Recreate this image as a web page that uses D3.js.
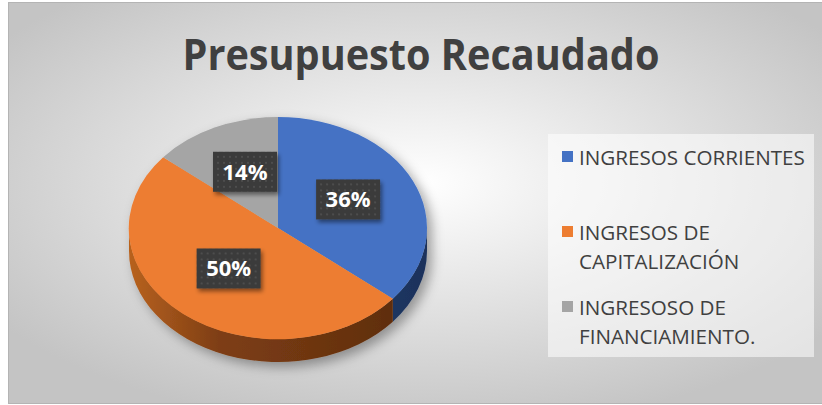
<!DOCTYPE html>
<html>
<head>
<meta charset="utf-8">
<script src="https://cdn.jsdelivr.net/npm/d3@7"></script>
<style>
  html, body { margin: 0; padding: 0; background: #ffffff; }
  svg { display: block; }
</style>
</head>
<body>
<div class="chart"></div>
<script>
/* chart data */
const categories = ["INGRESOS CORRIENTES", "INGRESOS DE CAPITALIZACIÓN", "INGRESOSO DE FINANCIAMIENTO."];
const values = [36, 50, 14];
const sliceColors = ["#4472c4", "#ed7d31", "#a5a5a5"];
const chartTitle = "Presupuesto Recaudado";

/* page size */
const width = 822;
const height = 405;

const svg = d3.select(".chart")
  .append("svg")
  .attr("width", width)
  .attr("height", height);

const defs = svg.append("defs");

/* background radial gradient like the office chart area */
const bg = defs.append("radialGradient")
  .attr("id", "bgGrad")
  .attr("cx", "50%").attr("cy", "45%").attr("r", "62%");
bg.append("stop").attr("offset", "0%").attr("stop-color", "#ffffff");
bg.append("stop").attr("offset", "100%").attr("stop-color", "#c4c4c4");

/* side gradients for the 3d look */
const pieCx = 278, pieCy = 228, rx = 149, ry = 111, depth = 23;

const sideOrange = defs.append("linearGradient")
  .attr("id", "side1")
  .attr("gradientUnits", "userSpaceOnUse")
  .attr("x1", pieCx - rx).attr("x2", pieCx + rx).attr("y1", 0).attr("y2", 0);
sideOrange.append("stop").attr("offset", "0%").attr("stop-color", "#b8621f");
sideOrange.append("stop").attr("offset", "30%").attr("stop-color", "#7e3e14");
sideOrange.append("stop").attr("offset", "100%").attr("stop-color", "#5a2b0d");

const sideBlue = defs.append("linearGradient")
  .attr("id", "side0")
  .attr("gradientUnits", "userSpaceOnUse")
  .attr("x1", pieCx - rx).attr("x2", pieCx + rx).attr("y1", 0).attr("y2", 0);
sideBlue.append("stop").attr("offset", "0%").attr("stop-color", "#2a4a85");
sideBlue.append("stop").attr("offset", "100%").attr("stop-color", "#1b325b");

const sideGray = defs.append("linearGradient").attr("id", "side2");
sideGray.append("stop").attr("offset", "0%").attr("stop-color", "#6e6e6e");

/* soft shadow under the pie */
const pieShadow = defs.append("filter").attr("id", "pieShadow")
  .attr("x", "-20%").attr("y", "-20%").attr("width", "150%").attr("height", "150%");
pieShadow.append("feDropShadow")
  .attr("dx", 5).attr("dy", 5).attr("stdDeviation", 6)
  .attr("flood-color", "#000").attr("flood-opacity", 0.35);

/* shadow for the data label boxes */
const boxShadow = defs.append("filter").attr("id", "boxShadow")
  .attr("x", "-30%").attr("y", "-30%").attr("width", "170%").attr("height", "170%");
boxShadow.append("feDropShadow")
  .attr("dx", 2).attr("dy", 3).attr("stdDeviation", 2)
  .attr("flood-color", "#000").attr("flood-opacity", 0.45);

/* dotted fill of the label boxes */
const dots = defs.append("pattern").attr("id", "dots")
  .attr("patternUnits", "userSpaceOnUse")
  .attr("width", 6).attr("height", 6);
dots.append("rect").attr("width", 6).attr("height", 6).attr("fill", "#3a3a3a");
dots.append("circle").attr("cx", 3).attr("cy", 3).attr("r", 0.9).attr("fill", "#565656");

/* chart area */
svg.append("rect")
  .attr("x", 8.5).attr("y", 2.5)
  .attr("width", width).attr("height", 401)
  .attr("fill", "url(#bgGrad)")
  .attr("stroke", "#b4b4b4");

/* title */
svg.append("text")
  .attr("x", 421)
  .attr("y", 70)
  .attr("text-anchor", "middle")
  .attr("font-family", "'Open Sans', sans-serif")
  .attr("font-weight", 700)
  .attr("font-size", 43)
  .attr("fill", "#404040")
  .attr("textLength", 477)
  .attr("lengthAdjust", "spacingAndGlyphs")
  .text(chartTitle);

/* pie layout */
const total = d3.sum(values);
const pie = d3.pie().sort(null).value(d => d)(values);

const arc = d3.arc().innerRadius(0).outerRadius(rx);

/* point on the tilted pie rim */
const rim = (a, dz) => [pieCx + rx * Math.sin(a), pieCy - ry * Math.cos(a) + dz];

const pieGroup = svg.append("g").attr("filter", "url(#pieShadow)");

/* sides of the slices facing the viewer */
pie.forEach((p, i) => {
  const s = Math.max(p.startAngle, Math.PI / 2);
  const e = Math.min(p.endAngle, 3 * Math.PI / 2);
  if (s >= e) return;
  const large = (e - s) > Math.PI ? 1 : 0;
  const p0 = rim(s, 0), p1 = rim(e, 0), p2 = rim(e, depth), p3 = rim(s, depth);
  const path = `M${p0}A${rx},${ry} 0 ${large} 1 ${p1}L${p2}A${rx},${ry} 0 ${large} 0 ${p3}Z`;
  pieGroup.append("path")
    .attr("d", path)
    .attr("fill", `url(#side${i})`);
});

/* top face */
pieGroup.append("g")
  .attr("transform", `translate(${pieCx},${pieCy}) scale(1,${ry / rx})`)
  .selectAll("path")
  .data(pie)
  .enter()
  .append("path")
  .attr("d", arc)
  .attr("fill", (d, i) => sliceColors[i]);

/* data labels */
const fmt = d3.format(".0%");
const labelR = rx * 0.52;
const boxW = 64, boxH = 40;

const labels = svg.append("g")
  .selectAll("g")
  .data(pie)
  .enter()
  .append("g")
  .attr("transform", d => {
    const a = (d.startAngle + d.endAngle) / 2;
    const x = pieCx + labelR * Math.sin(a);
    const y = pieCy - labelR * Math.cos(a) * (ry / rx) - 4;
    return `translate(${x},${y})`;
  });

labels.append("rect")
  .attr("x", -boxW / 2).attr("y", -boxH / 2)
  .attr("width", boxW).attr("height", boxH)
  .attr("fill", "url(#dots)")
  .attr("filter", "url(#boxShadow)");

labels.append("text")
  .attr("text-anchor", "middle")
  .attr("dy", "0.36em")
  .attr("font-family", "'Open Sans', sans-serif")
  .attr("font-weight", 700)
  .attr("font-size", 22)
  .attr("fill", "#ffffff")
  .text(d => fmt(d.value / total));

/* legend */
const legend = svg.append("g").attr("class", "legend");

legend.append("rect")
  .attr("x", 548).attr("y", 134)
  .attr("width", 266).attr("height", 223)
  .attr("fill", "#ffffff")
  .attr("fill-opacity", 0.55);

const legendFont = "'Open Sans', sans-serif";
let legendSize = 18;

/* fit the legend font so the longest single line matches the picture */
const probe = legend.append("text")
  .attr("font-family", legendFont)
  .attr("font-size", legendSize)
  .text(categories[0]);
legendSize = legendSize * 226 / probe.node().getComputedTextLength();
probe.remove();

const wrapWidth = 234;
const itemStep = 75;
const lineStep = 29;

categories.forEach((name, i) => {
  const baseY = 165 + i * itemStep;
  legend.append("rect")
    .attr("x", 562).attr("y", baseY - 14)
    .attr("width", 11).attr("height", 11)
    .attr("fill", sliceColors[i]);

  const t = legend.append("text")
    .attr("font-family", legendFont)
    .attr("font-size", legendSize)
    .attr("fill", "#404040");

  /* simple word wrap */
  const words = name.split(" ");
  let line = [];
  let lineNo = 0;
  let tspan = t.append("tspan").attr("x", 579).attr("y", baseY);
  words.forEach(w => {
    line.push(w);
    tspan.text(line.join(" "));
    if (tspan.node().getComputedTextLength() > wrapWidth && line.length > 1) {
      line.pop();
      tspan.text(line.join(" "));
      line = [w];
      lineNo++;
      tspan = t.append("tspan").attr("x", 579).attr("y", baseY + lineNo * lineStep).text(w);
    }
  });
});
</script>
</body>
</html>
